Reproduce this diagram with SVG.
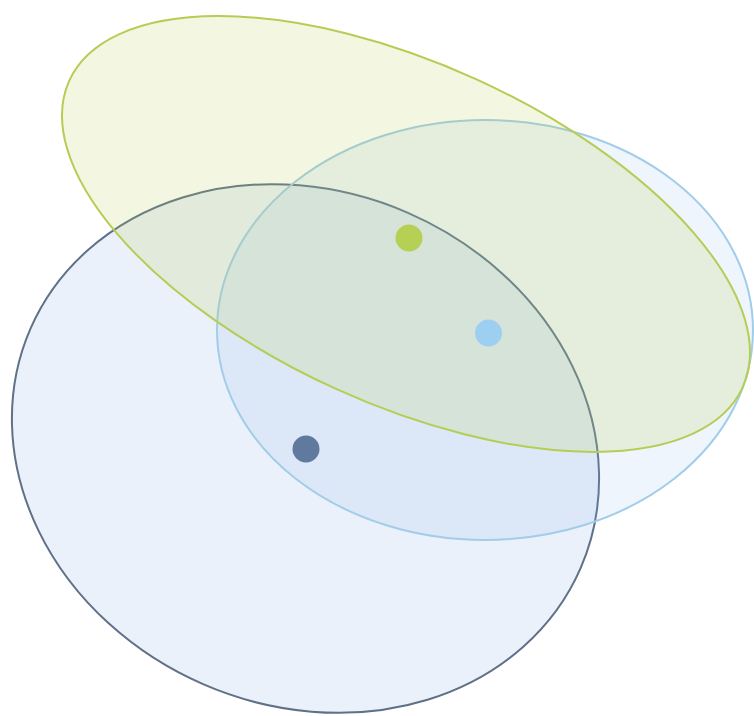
<svg xmlns="http://www.w3.org/2000/svg" width="754" height="716" viewBox="0 0 754 716">
<style>
.g{fill:rgba(181,204,74,0.17);stroke:#b5cd55;stroke-width:2}
.b{fill:rgba(120,180,230,0.13);stroke:#a2cde8;stroke-width:2}
.d{fill:rgba(100,150,220,0.13);stroke:#5f7189;stroke-width:2}
</style>
<rect width="754" height="716" fill="#ffffff"/>
<g id="set-dark"><ellipse class="d" cx="305.5" cy="448.5" rx="300" ry="257" transform="rotate(23.5 305.5 448.5)"/></g>
<g id="set-blue"><ellipse class="b" cx="485" cy="330" rx="268" ry="210"/></g>
<g id="set-green"><ellipse class="g" cx="406" cy="234" rx="370" ry="170" transform="rotate(24.5 406 234)"/></g>
<g id="dot-green"><circle cx="409" cy="238" r="13.5" fill="#b6cf55"/></g>
<g id="dot-blue"><circle cx="488.5" cy="333" r="13.5" fill="#9dd0f0"/></g>
<g id="dot-dark"><circle cx="306" cy="449" r="13.5" fill="#5f7a9e"/></g>
<g id="connectors"></g>
</svg>
